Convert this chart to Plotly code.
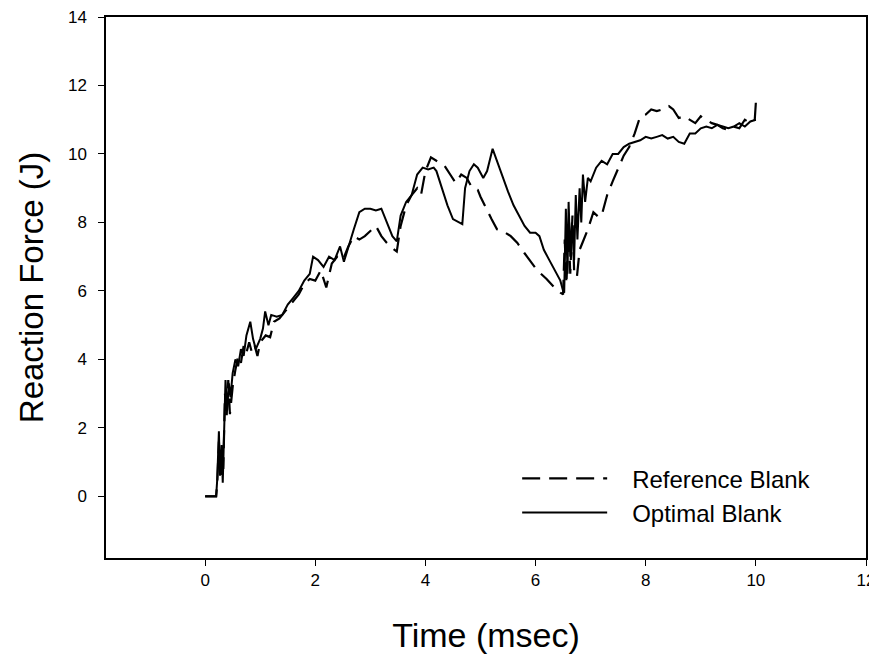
import plotly.graph_objects as go

# ---- Data ----
optimal_t = [0, 0.2, 0.22, 0.25, 0.27, 0.3, 0.32, 0.35, 0.37, 0.4, 0.43, 0.46, 0.5, 0.55,
             0.6, 0.65, 0.7, 0.75, 0.82, 0.87, 0.92, 1.0, 1.05, 1.09, 1.15, 1.2, 1.3, 1.4,
             1.5, 1.6, 1.7, 1.8, 1.9, 1.96, 2.05, 2.15, 2.25, 2.35, 2.45, 2.52, 2.6, 2.7,
             2.8, 2.9, 3.0, 3.1, 3.2, 3.3, 3.4, 3.48, 3.55, 3.65, 3.75, 3.85, 3.95, 4.05,
             4.15, 4.2, 4.3, 4.4, 4.5, 4.6, 4.67, 4.72, 4.8, 4.88, 4.95, 5.05, 5.12, 5.22,
             5.3, 5.4, 5.5, 5.6, 5.7, 5.8, 5.9, 6.0, 6.07, 6.15, 6.25, 6.35, 6.45, 6.5,
             6.52, 6.55, 6.58, 6.6, 6.63, 6.66, 6.7, 6.73, 6.76, 6.8, 6.83, 6.86, 6.9,
             6.95, 7.0, 7.1, 7.2, 7.3, 7.4, 7.5, 7.6, 7.7, 7.8, 7.9, 8.0, 8.1, 8.2, 8.3,
             8.4, 8.5, 8.6, 8.7, 8.8, 8.9, 9.0, 9.1, 9.2, 9.3, 9.4, 9.5, 9.6, 9.7, 9.8,
             9.9, 10.0]
optimal_force = [0, 0, 0.5, 1.9, 0.6, 1.5, 0.4, 2.6, 3.4, 2.5, 3.3, 2.9, 3.6, 4.0,
                 3.8, 4.3, 4.1, 4.7, 5.1, 4.6, 4.3, 4.6, 4.9, 5.4, 5.0, 5.3, 5.25, 5.3,
                 5.6, 5.8, 6.0, 6.3, 6.5, 7.0, 6.9, 6.7, 7.0, 6.9, 7.3, 6.85, 7.3, 7.8,
                 8.3, 8.4, 8.4, 8.35, 8.4, 8.0, 7.6, 7.45, 8.2, 8.6, 8.8, 9.4, 9.6, 9.55,
                 9.6, 9.5, 9.0, 8.5, 8.1, 8.0, 7.95, 9.0, 9.5, 9.7, 9.6, 9.3, 9.5, 10.15,
                 9.8, 9.3, 8.9, 8.5, 8.2, 7.9, 7.7, 7.7, 7.6, 7.2, 6.9, 6.6, 6.3, 6.0,
                 5.95, 8.4, 6.5, 8.6, 7.0, 8.0, 6.9, 8.8, 7.5, 9.0, 8.0, 9.4, 8.6,
                 9.3, 9.2, 9.6, 9.8, 9.7, 10.0, 10.0, 10.2, 10.3, 10.35, 10.4, 10.5, 10.45, 10.5, 10.55,
                 10.45, 10.5, 10.35, 10.3, 10.6, 10.6, 10.75, 10.8, 10.75, 10.85, 10.8, 10.75, 10.8, 10.9, 10.8,
                 10.95, 11.0]

reference_t = [0, 0.2, 0.22, 0.25, 0.28, 0.31, 0.33, 0.36, 0.39, 0.42, 0.45, 0.5, 0.55,
               0.6, 0.65, 0.7, 0.75, 0.8, 0.85, 0.9, 0.95, 1.0, 1.1, 1.18, 1.25, 1.35,
               1.5, 1.6, 1.7, 1.8, 1.9, 2.0, 2.1, 2.2, 2.3, 2.4, 2.5, 2.6, 2.7, 2.8,
               2.9, 3.0, 3.1, 3.2, 3.3, 3.4, 3.48, 3.55, 3.65, 3.75, 3.85, 3.92, 4.0,
               4.1, 4.2, 4.35, 4.45, 4.55, 4.65, 4.75, 4.85, 4.95, 5.0, 5.1, 5.2, 5.3,
               5.4, 5.55, 5.67, 5.8, 5.94, 6.03, 6.2, 6.34, 6.45, 6.5, 6.53, 6.56, 6.6,
               6.63, 6.67, 6.7, 6.75, 6.8, 6.85, 6.95, 7.05, 7.15, 7.2, 7.3, 7.4, 7.5,
               7.6, 7.7, 7.8, 7.9, 8.0, 8.1, 8.2, 8.3, 8.42, 8.5, 8.6, 8.7, 8.8, 8.9,
               9.0, 9.1, 9.2, 9.3, 9.4, 9.5, 9.6, 9.7, 9.8, 9.9, 9.98, 10.0]
reference_force = [0, 0, 0.4, 1.6, 0.5, 1.2, 0.8, 3.0, 2.3, 3.4, 2.4, 3.2, 3.7,
                   4.1, 3.9, 4.4, 4.2, 4.5, 4.2, 4.4, 4.1, 4.5, 4.7, 4.65, 5.1, 5.2,
                   5.5, 5.7, 5.9, 6.2, 6.35, 6.3, 6.6, 6.1, 6.8, 7.0, 6.9, 7.3, 7.6, 7.5,
                   7.6, 7.75, 7.9, 7.6, 7.4, 7.25, 7.15, 7.9, 8.5, 8.8, 9.0, 8.8, 9.5,
                   9.9, 9.8, 9.65, 9.4, 9.15, 9.4, 9.3, 9.0, 8.95, 8.75, 8.4, 8.1, 7.8,
                   7.75, 7.6, 7.4, 7.1, 6.8, 6.6, 6.35, 6.1, 5.95, 5.9, 7.5, 6.2, 7.8,
                   6.5, 8.2, 6.6, 6.4, 7.2, 7.4, 7.8, 8.3, 8.15, 8.2, 8.8, 9.2, 9.6,
                   9.95, 10.2, 10.6, 11.1, 11.15, 11.3, 11.25, 11.3, 11.4, 11.3, 11.05, 11.1, 11.0, 10.9,
                   11.1, 11.0, 10.9, 10.85, 10.75, 10.7, 10.8, 10.75, 11.0, 10.9, 11.0, 11.5]

x_ticks = [0, 2, 4, 6, 8, 10, 12]
y_ticks = [0, 2, 4, 6, 8, 10, 12, 14]

FONT = "Arial, Liberation Sans, sans-serif"
GAP = "\u00a0\u00a0\u00a0"

fig = go.Figure()
fig.add_trace(go.Scatter(
    x=reference_t, y=reference_force, mode="lines", name=GAP + "Reference Blank",
    line=dict(color="black", width=2.2, dash="18px,9px"),
))
fig.add_trace(go.Scatter(
    x=optimal_t, y=optimal_force, mode="lines", name=GAP + "Optimal Blank",
    line=dict(color="black", width=2),
))

# The page body adds an 8px offset, so the figure is sized 8px smaller.
fig.update_layout(
    width=869, height=652,
    margin=dict(l=98, r=11, t=9, b=102),
    paper_bgcolor="white", plot_bgcolor="white",
    font=dict(family=FONT, color="black"),
    showlegend=True,
    legend=dict(
        x=0.541, y=0.188, xanchor="left", yanchor="top",
        font=dict(size=24, family=FONT, color="black"),
        bgcolor="rgba(0,0,0,0)", tracegroupgap=0, itemwidth=85,
    ),
    xaxis=dict(
        range=[-1.8, 12], tickvals=x_ticks, ticks="outside", ticklen=6,
        tickcolor="black", showline=True, linecolor="black", linewidth=1.5,
        mirror=True, showgrid=False, zeroline=False, automargin=False,
        tickfont=dict(size=17, family=FONT), ticklabelstandoff=0,
        ticklabeloverflow="allow",
        title=dict(text="Time (msec)", font=dict(size=34, family=FONT), standoff=34),
    ),
    yaxis=dict(
        range=[-1.8, 14], tickvals=y_ticks, ticks="outside", ticklen=6,
        tickcolor="black", showline=True, linecolor="black", linewidth=1.5,
        mirror=True, showgrid=False, zeroline=False, automargin=False,
        tickfont=dict(size=17, family=FONT), ticklabelstandoff=8,
        ticklabeloverflow="allow",
        title=dict(text="Reaction Force (J)", font=dict(size=33, family=FONT), standoff=14),
    ),
)

fig.write_html("out.html")
